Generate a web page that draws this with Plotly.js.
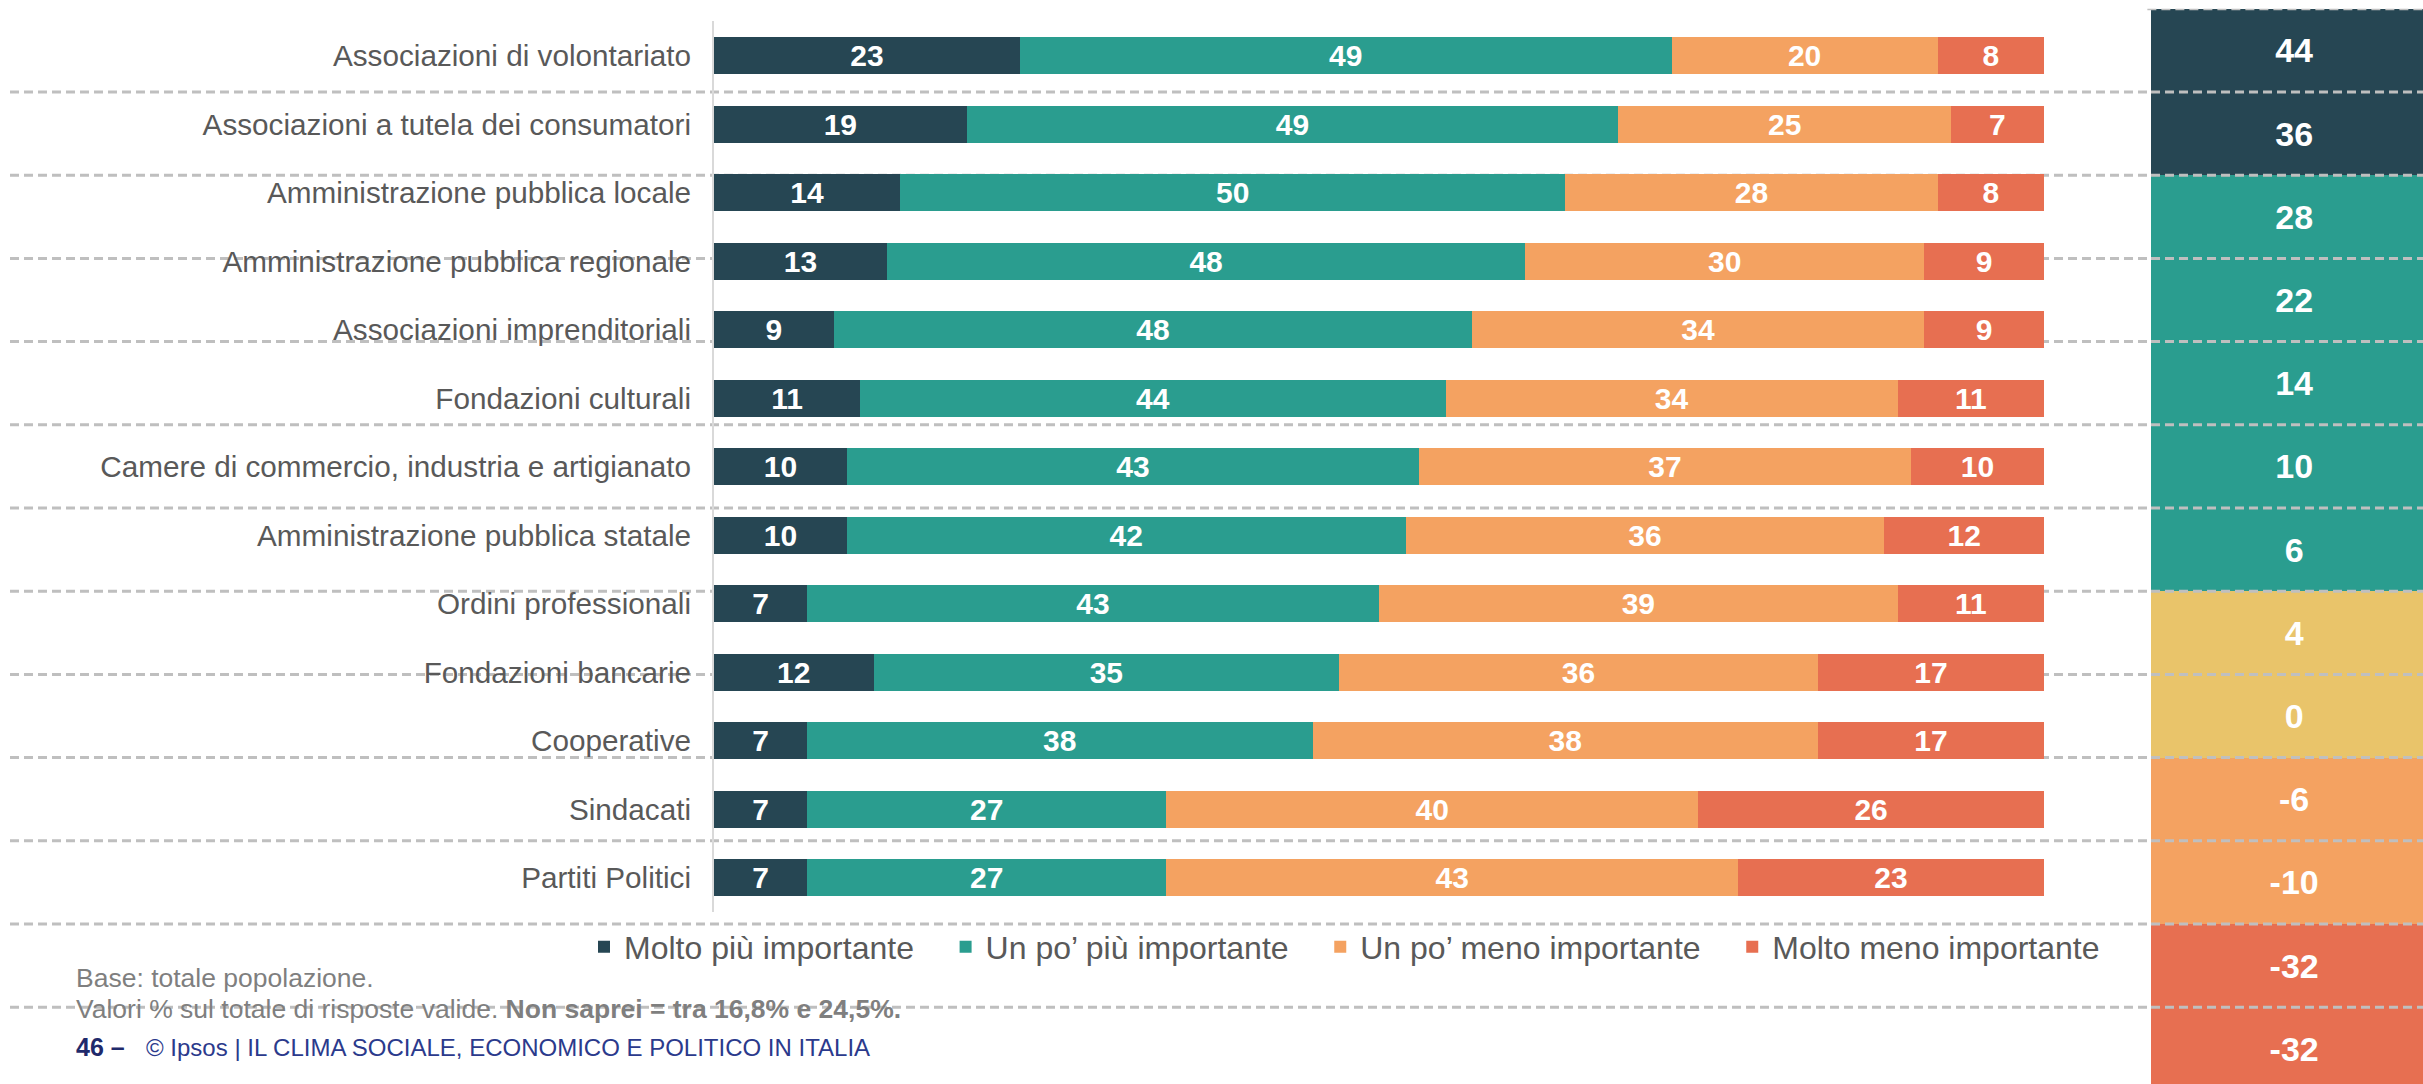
<!DOCTYPE html>
<html>
<head>
<meta charset="utf-8">
<script src="https://cdn.plot.ly/plotly-3.0.1.min.js"></script>
<style>html,body{margin:0;padding:0;background:#fff;}#chart{width:2423px;height:1084px;}</style>
</head>
<body>
<div id="chart"></div>
<script>
// ---- DATA ----
const categories = [
  "Associazioni di volontariato",
  "Associazioni a tutela dei consumatori",
  "Amministrazione pubblica locale",
  "Amministrazione pubblica regionale",
  "Associazioni imprenditoriali",
  "Fondazioni culturali",
  "Camere di commercio, industria e artigianato",
  "Amministrazione pubblica statale",
  "Ordini professionali",
  "Fondazioni bancarie",
  "Cooperative",
  "Sindacati",
  "Partiti Politici"
];
const seriesNames = ["Molto più importante", "Un po’ più importante", "Un po’ meno importante", "Molto meno importante"];
const moltoPiu  = [23, 19, 14, 13, 9, 11, 10, 10, 7, 12, 7, 7, 7];
const unPoPiu   = [49, 49, 50, 48, 48, 44, 43, 42, 43, 35, 38, 27, 27];
const unPoMeno  = [20, 25, 28, 30, 34, 34, 37, 36, 39, 36, 38, 40, 43];
const moltoMeno = [8, 7, 8, 9, 9, 11, 10, 12, 11, 17, 17, 26, 23];
const saldo     = [44, 36, 28, 22, 14, 10, 6, 4, 0, -6, -10, -32, -32];

// ---- STYLE ----
const FONT = "Liberation Sans, Arial, sans-serif";
const colors = ["#264653", "#2a9d8f", "#f4a261", "#e76f51"];
function saldoColor(v) {
  if (v >= 30) return "#264653";
  if (v >= 5) return "#2a9d8f";
  if (v >= 0) return "#e9c46a";
  if (v >= -20) return "#f4a261";
  return "#e76f51";
}
const legendPad = "\u00a0\u00a0\u00a0";

const series = [moltoPiu, unPoPiu, unPoMeno, moltoMeno];
const traces = series.map((vals, i) => ({
  type: "bar",
  orientation: "h",
  name: seriesNames[i] + legendPad,
  y: categories,
  x: vals,
  text: vals.map(String),
  textposition: "inside",
  insidetextanchor: "middle",
  textangle: 0,
  constraintext: "none",
  textfont: {family: FONT, size: 30, color: "#ffffff", weight: "bold"},
  marker: {color: colors[i], line: {width: 0}},
  xaxis: "x", yaxis: "y",
  hoverinfo: "skip"
}));

traces.push({
  type: "bar",
  orientation: "h",
  y: categories,
  x: categories.map(() => 1),
  width: 1,
  text: saldo.map(String),
  textposition: "inside",
  insidetextanchor: "middle",
  textangle: 0,
  constraintext: "none",
  textfont: {family: FONT, size: 34, color: "#ffffff", weight: "bold"},
  marker: {color: saldo.map(saldoColor), line: {width: 0}},
  xaxis: "x2", yaxis: "y2",
  showlegend: false,
  hoverinfo: "skip"
});

// dashed table separators (right column rows)
const colX = 2151 / 2423;
const shapes = [];
const dashLine = {color: "#bfbfbf", width: 3, dash: "9px,5px"};
for (let k = 0; k < categories.length - 1; k++) {
  shapes.push({type: "line", xref: "paper", yref: "y2", x0: 10 / 2423, x1: colX, y0: k + 0.5, y1: k + 0.5, line: dashLine, layer: "below"});
  shapes.push({type: "line", xref: "paper", yref: "y2", x0: colX, x1: 1, y0: k + 0.5, y1: k + 0.5, line: dashLine, layer: "above"});
}
shapes.push({type: "line", xref: "paper", yref: "y2", x0: colX - 0.0015, x1: 1, y0: -0.5, y1: -0.5, line: dashLine, layer: "above"});

const layout = {
  width: 2423, height: 1084,
  margin: {l: 0, r: 0, t: 0, b: 0, pad: 0},
  paper_bgcolor: "#ffffff", plot_bgcolor: "rgba(0,0,0,0)",
  barmode: "stack",
  bargap: 0.46,
  font: {family: FONT, color: "#595959"},
  xaxis: {domain: [714 / 2423, 2044 / 2423], range: [0, 100], showgrid: false, zeroline: false, showline: false, showticklabels: false, fixedrange: true},
  yaxis: {domain: [0.15881, 0.98030], type: "category", range: [12.5, -0.5], showgrid: false, zeroline: false,
          showline: true, linecolor: "#d9d9d9", linewidth: 2, ticks: "", ticklabelstandoff: 15,
          tickfont: {family: FONT, size: 29.7, color: "#595959"}, automargin: false},
  xaxis2: {domain: [colX, 1], range: [0, 0.95], visible: false, fixedrange: true},
  yaxis2: {domain: [0, 1 - 8.8 / 1084], type: "category", range: [12.423, -0.5], visible: false, anchor: "x2"},
  showlegend: true,
  legend: {orientation: "h", x: 584 / 2423, xanchor: "left", y: 1 - 947 / 1084, yanchor: "middle",
           font: {family: FONT, size: 32, color: "#595959"}, traceorder: "normal", itemwidth: 30,
           bgcolor: "rgba(0,0,0,0)"},
  shapes: shapes,
  annotations: [
    {xref: "paper", yref: "paper", x: 74 / 2423, y: 1 - 978 / 1084, xanchor: "left", yanchor: "middle", showarrow: false,
     text: "Base: totale popolazione.", font: {family: FONT, size: 26.5, color: "#7f7f7f"}},
    {xref: "paper", yref: "paper", x: 74 / 2423, y: 1 - 1009 / 1084, xanchor: "left", yanchor: "middle", showarrow: false,
     text: "Valori % sul totale di risposte valide. <b>Non saprei = tra 16,8% e 24,5%.</b>", font: {family: FONT, size: 26.5, color: "#7f7f7f"}},
    {xref: "paper", yref: "paper", x: 74 / 2423, y: 1 - 1047 / 1084, xanchor: "left", yanchor: "middle", showarrow: false,
     text: "<b>46 –</b>", font: {family: FONT, size: 25, color: "#1f2a6b"}},
    {xref: "paper", yref: "paper", x: 144 / 2423, y: 1 - 1047 / 1084, xanchor: "left", yanchor: "middle", showarrow: false,
     text: "© Ipsos | IL CLIMA SOCIALE, ECONOMICO E POLITICO IN ITALIA", font: {family: FONT, size: 24, color: "#2b3a8c"}}
  ]
};

Plotly.newPlot("chart", traces, layout, {staticPlot: true, displayModeBar: false});
</script>
</body>
</html>
